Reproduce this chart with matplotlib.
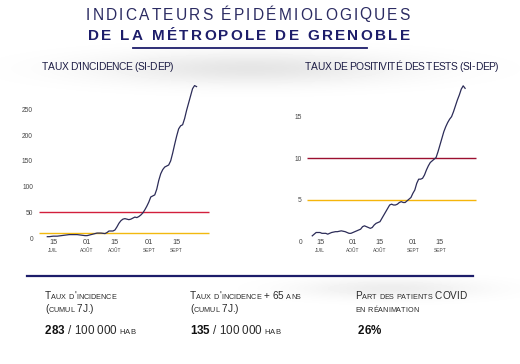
import numpy as np
import pandas as pd
import matplotlib
matplotlib.use("Agg")
import matplotlib.pyplot as plt
import matplotlib.font_manager as fm
from matplotlib.ft2font import FT2Font, LoadFlags
from matplotlib.lines import Line2D
from matplotlib.transforms import offset_copy


########################################
#   Data
########################################

# taux d'incidence (SI-DEP), one value per day from 12 Jul
incidence_start = "2020-07-12"
incidence = [3, 3, 3.5, 4, 4, 4, 4.5, 5, 5.5, 6, 6.5, 7, 7, 7, 7, 7, 6.5, 6, 5.5, 5,
             5, 6, 7, 8, 9, 10, 10, 10, 9.5, 9, 11, 14, 14, 14, 16, 22, 29, 34, 37, 38,
             37, 36, 37, 39, 41, 40, 42, 45, 49, 55, 62, 70, 80, 82, 84, 95, 112, 125, 133, 138,
             140, 142, 150, 165, 182, 198, 212, 218, 220, 232, 248, 262, 276, 290, 296, 294]

# taux de positivite (SI-DEP), one value per day from 11 Jul
positivite_start = "2020-07-11"
positivite = [0.7, 0.9, 1.1, 1.1, 1.1, 1.0, 1.0, 1.0, 0.9, 1.0, 1.1, 1.15, 1.2, 1.2, 1.25, 1.3,
              1.25, 1.2, 1.1, 1.0, 1.0, 1.1, 1.2, 1.3, 1.4, 1.5, 1.8, 1.9, 1.8, 1.7, 1.6, 1.7,
              2.0, 2.2, 2.3, 2.4, 2.8, 3.2, 3.6, 4.0, 4.4, 4.5, 4.4, 4.4, 4.5, 4.7, 4.8, 4.7,
              4.7, 4.9, 5.1, 5.3, 5.8, 6.2, 7.0, 7.5, 7.5, 7.6, 8.0, 8.6, 9.1, 9.5, 9.7, 9.9,
              10.1, 10.8, 11.6, 12.4, 13.2, 13.8, 14.3, 14.7, 15.0, 15.6, 16.3, 17.0, 17.6, 18.3,
              18.7, 18.4]

incidence_seuils = [50, 10]     # red, yellow
positivite_seuils = [10, 5]

tick_dates = ["2020-07-15", "2020-08-01", "2020-08-15", "2020-09-01", "2020-09-15"]
tick_days = ["15", "01", "15", "01", "15"]
tick_months = ["JUIL", "AOÛT", "AOÛT", "SEPT", "SEPT"]

incidence_yticks = [0, 50, 100, 150, 200, 250]
positivite_yticks = [0, 5, 10, 15]

title_1 = "INDICATEURS ÉPIDÉMIOLOGIQUES"
title_2 = "DE LA MÉTROPOLE DE GRENOBLE"
chart_titles = ["TAUX D'INCIDENCE (SI-DEP)", "TAUX DE POSITIVITÉ DES TESTS (SI-DEP)"]

kpi_labels = [["Taux d'incidence", "(cumul 7J.)"],
              ["Taux d'incidence + 65 ans", "(cumul 7J.)"],
              ["Part des patients COVID", "en réanimation"]]
kpi_values = ["283", "135", "26%"]
kpi_units = [" / 100 000 ", " / 100 000 ", ""]
kpi_hab = ["hab", "hab", ""]


########################################
#   Figure & helpers
########################################

W, H = 520, 364
FONT = "Liberation Sans"
NAVY = "#1d1d6a"
CURVE = "#2c2c58"
TXT = "#2a2a2a"

fig = plt.figure(figsize=(W / 100, H / 100), dpi=100)
fig.patch.set_facecolor("white")

# soft grey shadows behind the header and the KPI rule
bg = fig.add_axes([0, 0, 1, 1], zorder=-10)
yy, xx = np.mgrid[0:H, 0:W]
shade = 0.10 * np.exp(-((xx - 250) / 150.0) ** 2 - ((yy - 68) / 16.0) ** 2)
shade += 0.07 * np.exp(-((xx - 390) / 90.0) ** 2 - ((yy - 288) / 10.0) ** 2)
bg.imshow(1 - shade, cmap="gray", vmin=0, vmax=1, extent=(0, W, H, 0), aspect="auto")
bg.set_xlim(0, W)
bg.set_ylim(H, 0)
bg.axis("off")


def px_axes(x0, y0, x1, y1):
    return fig.add_axes([x0 / W, 1 - y1 / H, (x1 - x0) / W, (y1 - y0) / H])


_fonts = {}
def advance(ch, size, weight):
    if weight not in _fonts:
        path = fm.findfont(fm.FontProperties(family=FONT, weight=weight))
        _fonts[weight] = FT2Font(path)
    ft = _fonts[weight]
    ft.set_size(size, 100)
    g = ft.load_char(ord(ch), flags=LoadFlags.NO_HINTING)
    return g.linearHoriAdvance / 65536.0


def draw_runs(x, y, runs, width=None, ha="left", tracking=0.0):
    # runs: list of (text, size, weight, color); x, y in pixels from top-left
    chars = [(c, s, w, col) for txt, s, w, col in runs for c in txt]
    adv = [advance(c, s, w) for c, s, w, col in chars]
    if width is not None:
        tracking = (width - sum(adv)) / (len(chars) - 1)
    total = sum(adv) + tracking * (len(chars) - 1)
    if ha == "center":
        x = x - total / 2
    for (c, s, w, col), a in zip(chars, adv):
        fig.text(x, H - y, c, fontsize=s, fontweight=w, color=col, family=FONT,
                 va="baseline", ha="left", transform=None)
        x += a + tracking


def small_caps(txt, big, small, weight="normal", color=TXT):
    runs = []
    for c in txt:
        if c.islower():
            runs.append((c.upper(), small, weight, color))
        else:
            runs.append((c, big, weight, color))
    return runs


########################################
#   Header
########################################

draw_runs(86, 19.5, [(title_1, 11.2, "normal", "#2b2b62")], width=324)
draw_runs(88, 39.5, [(title_2, 11.0, "bold", NAVY)], width=322)
fig.add_artist(Line2D([133 / W, 367 / W], [1 - 48 / H, 1 - 48 / H], color=NAVY, lw=1.3,
                      transform=fig.transFigure))

draw_runs(42, 69.5, [(chart_titles[0], 7.4, "normal", "#1e1e46")], width=131)
draw_runs(305, 69.5, [(chart_titles[1], 7.4, "normal", "#1e1e46")], width=193)


########################################
#   Charts
########################################

def chart(ax, start, values, seuils, colors, yticks, xlim_days, ylim, line_days, ylab_pad):
    x = pd.date_range(start, periods=len(values))
    base = pd.Timestamp("2020-07-01")
    x0 = base + pd.Timedelta(days=line_days[0])
    x1 = base + pd.Timedelta(days=line_days[1])
    ax.hlines(seuils[0], x0, x1, color=colors[0], lw=1.0)
    ax.hlines(seuils[1], x0, x1, color=colors[1], lw=1.0)
    ax.plot(x, values, color=CURVE, lw=0.9)
    ax.set_xlim(base + pd.Timedelta(days=xlim_days[0]), base + pd.Timedelta(days=xlim_days[1]))
    ax.set_ylim(*ylim)
    for s in ax.spines.values():
        s.set_visible(False)
    ax.set_facecolor("none")
    ax.set_yticks(yticks)
    ax.set_yticklabels([str(v) for v in yticks], fontsize=4.8, color="#444444", family=FONT)
    ax.tick_params(axis="y", length=0, pad=ylab_pad)
    ax.set_xticks([])
    tr = ax.get_xaxis_transform()
    for d, day, mon in zip(tick_dates, tick_days, tick_months):
        ax.text(pd.Timestamp(d), 0, day, transform=offset_copy(tr, fig=fig, y=2, units="dots"),
                ha="center", va="center", fontsize=5.3, color="#444444", family=FONT)
        ax.text(pd.Timestamp(d), 0, mon, transform=offset_copy(tr, fig=fig, y=-6, units="dots"),
                ha="center", va="center", fontsize=3.5, color="#444444", family=FONT)


ax1 = px_axes(38, 80, 210, 244)
chart(ax1, incidence_start, incidence, incidence_seuils, ["#d21f3c", "#f2b90f"],
      incidence_yticks, (6.33, 92.76), (-11.2, 306.8), (7.0, 92.3), 3.6)

ax2 = px_axes(305, 80, 478, 244)
chart(ax2, positivite_start, positivite, positivite_seuils, ["#9c1030", "#f5b50a"],
      positivite_yticks, (6.25, 95.66), (-0.28, 19.4), (7.1, 94.6), 2.2)


########################################
#   KPIs
########################################

fig.add_artist(Line2D([27 / W, 473 / W], [1 - 275.5 / H, 1 - 275.5 / H], color=NAVY, lw=1.6,
                      transform=fig.transFigure))

kpi_x = [45, 190, 355]
for i in range(3):
    x0 = kpi_x[i]
    draw_runs(x0, 299, small_caps(kpi_labels[i][0], 7.2, 5.2))
    draw_runs(x0, 311.5, small_caps(kpi_labels[i][1], 7.2, 5.2))
    runs = [(kpi_values[i], 8.4, "bold", "#111111")]
    runs += small_caps(kpi_units[i], 8.4, 5.5) + small_caps(kpi_hab[i], 8.4, 5.5)
    draw_runs(x0 + (3 if i == 2 else 0), 334, runs)

fig.savefig("out.png", dpi=100)
